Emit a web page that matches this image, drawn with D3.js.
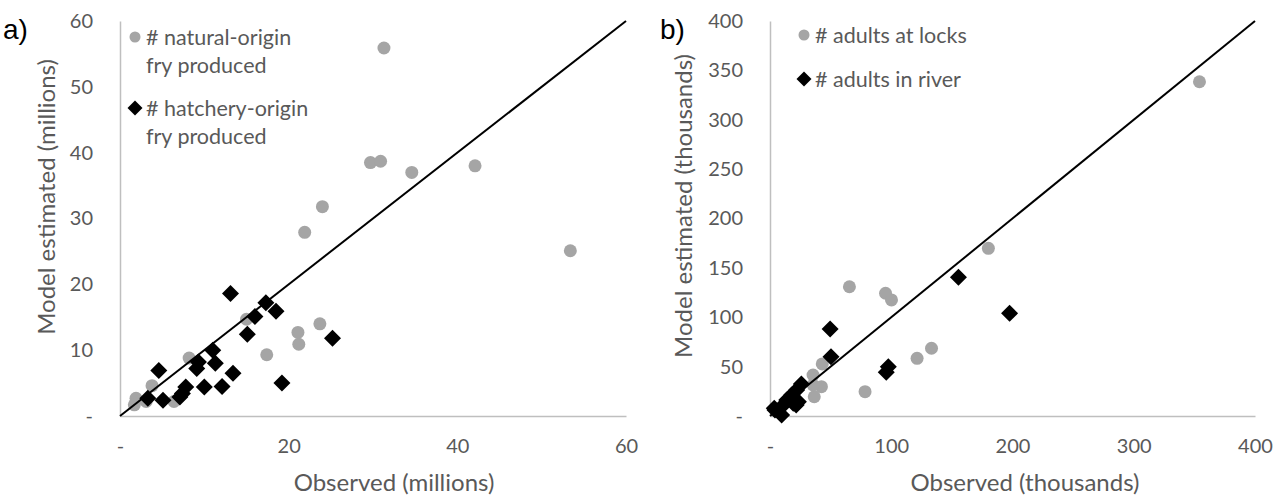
<!DOCTYPE html>
<html>
<head>
<meta charset="utf-8">
<script src="https://cdn.jsdelivr.net/npm/d3@7"></script>
<style>
  body { margin: 0; background: #fff; }
  svg { display: block; font-family: Lato, "Open Sans", sans-serif; }
</style>
</head>
<body>
<svg id="chart"></svg>
<script>
// panel a: fry produced (millions)
const naturalObs = [31.3, 29.7, 30.9, 34.6, 42.1, 24.0, 21.9, 53.4, 15.0, 23.7, 21.1, 21.2, 17.4, 8.2, 3.8, 1.9, 1.7, 3.1, 6.4];
const naturalEst = [55.9, 38.5, 38.7, 37.0, 38.0, 31.8, 27.9, 25.1, 14.7, 14.0, 12.7, 10.9, 9.3, 8.8, 4.6, 2.7, 1.7, 2.2, 2.2];
const hatcheryObs = [13.1, 17.3, 18.5, 16.0, 15.1, 25.2, 11.0, 11.3, 9.3, 9.1, 4.6, 13.4, 19.2, 10.0, 12.1, 7.8, 7.4, 7.1, 3.3, 5.1];
const hatcheryEst = [18.6, 17.2, 15.9, 15.1, 12.4, 11.8, 10.0, 8.0, 8.2, 7.2, 6.9, 6.5, 5.0, 4.4, 4.5, 4.4, 3.4, 2.9, 2.7, 2.4];

// panel b: adults (thousands)
const locksObs = [354.2, 180.1, 65.5, 95.3, 100.2, 133.2, 121.3, 43.1, 35.5, 42.4, 36.5, 78.4, 35.5];
const locksEst = [338.5, 169.8, 130.9, 124.3, 117.5, 68.6, 58.4, 52.7, 41.5, 29.7, 19.5, 24.6, 31.4];
const riverObs = [155.4, 197.6, 49.6, 50.3, 97.6, 95.9, 25.9, 22, 17.9, 13.8, 9.6, 4.1, 9.6, 23.4, 19.2, 3.5, 21.6];
const riverEst = [140.4, 104.0, 88.1, 60.1, 50.0, 44.2, 32.4, 26.3, 21.3, 16.2, 9.4, 6.1, 1.0, 14.5, 12.9, 7.8, 11.1];

const ticksA = [0, 10, 20, 30, 40, 50, 60];
const xTicksA = [0, 20, 40, 60];
const ticksB = [0, 50, 100, 150, 200, 250, 300, 350, 400];
const xTicksB = [0, 100, 200, 300, 400];

const W = 1278, H = 496;
const grey = '#a5a5a5';
const textCol = '#595959';
const axisCol = '#bfbfbf';

const svg = d3.select('#chart')
  .attr('width', W)
  .attr('height', H);

function diamond(size) {
  return `M0,${-size}L${size},0L0,${size}L${-size},0Z`;
}

function panel(opts) {
  const x = d3.scaleLinear().domain([0, opts.max]).range([opts.left, opts.right]);
  const y = d3.scaleLinear().domain([0, opts.max]).range([416, 21]);
  const fmt = d => d === 0 ? '-' : d;

  const xAxis = svg.append('g')
    .attr('transform', 'translate(0,416)')
    .call(d3.axisBottom(x).tickValues(opts.xTicks).tickSize(0).tickPadding(23).tickFormat(fmt));
  const yAxis = svg.append('g')
    .attr('transform', `translate(${opts.left},0)`)
    .call(d3.axisLeft(y).tickValues(opts.yTicks).tickSize(0).tickPadding(27).tickFormat(fmt));
  [xAxis, yAxis].forEach(g => {
    g.select('.domain').attr('stroke', axisCol).attr('stroke-width', 1.5);
    g.selectAll('text')
      .attr('fill', textCol)
      .style('font-size', '20px')
      .style('font-family', 'Lato, sans-serif');
  });

  // grey circles
  svg.append('g')
    .selectAll('circle')
    .data(d3.zip(opts.greyX, opts.greyY))
    .join('circle')
    .attr('cx', d => x(d[0]))
    .attr('cy', d => y(d[1]))
    .attr('r', 6.5)
    .attr('fill', grey);

  // 1:1 line
  svg.append('line')
    .attr('x1', x(0)).attr('y1', y(0))
    .attr('x2', x(opts.max)).attr('y2', y(opts.max))
    .attr('stroke', '#000')
    .attr('stroke-width', 2);

  // black diamonds
  svg.append('g')
    .selectAll('path')
    .data(d3.zip(opts.blackX, opts.blackY))
    .join('path')
    .attr('d', diamond(8.5))
    .attr('transform', d => `translate(${x(d[0])},${y(d[1])})`)
    .attr('fill', '#000');

  // axis titles
  svg.append('text')
    .attr('x', opts.xTitleX)
    .attr('y', 491)
    .attr('text-anchor', 'middle')
    .attr('fill', textCol)
    .style('font-size', '24px')
    .text(opts.xTitle);
  svg.append('text')
    .attr('transform', `translate(${opts.yTitleX},${opts.yTitleY}) rotate(-90)`)
    .attr('text-anchor', 'middle')
    .attr('fill', textCol)
    .style('font-size', '24px')
    .text(opts.yTitle);

  // panel letter
  svg.append('text')
    .attr('x', opts.letterX)
    .attr('y', 39)
    .attr('fill', '#000')
    .style('font-size', '28px')
    .style('font-family', 'Arial, "Liberation Sans", sans-serif')
    .text(opts.letter);

  // legend
  const leg = svg.append('g').attr('fill', textCol).style('font-size', '21.5px');
  leg.append('circle')
    .attr('cx', opts.legX).attr('cy', opts.leg1Y).attr('r', 5.5).attr('fill', grey);
  leg.append('path')
    .attr('d', diamond(7.5))
    .attr('transform', `translate(${opts.legX},${opts.leg2Y})`)
    .attr('fill', '#000');
  opts.leg1.forEach((t, i) => {
    leg.append('text')
      .attr('x', opts.legX + 11)
      .attr('y', opts.leg1Y + i * 28)
      .attr('dy', '0.35em')
      .text(t);
  });
  opts.leg2.forEach((t, i) => {
    leg.append('text')
      .attr('x', opts.legX + 11)
      .attr('y', opts.leg2Y + i * 28)
      .attr('dy', '0.35em')
      .text(t);
  });
}

panel({
  max: 60, left: 120, right: 626,
  xTicks: xTicksA, yTicks: ticksA,
  greyX: naturalObs, greyY: naturalEst,
  blackX: hatcheryObs, blackY: hatcheryEst,
  xTitle: 'Observed (millions)', xTitleX: 394,
  yTitle: 'Model estimated (millions)', yTitleX: 55, yTitleY: 197,
  letter: 'a)', letterX: 3,
  legX: 135, leg1Y: 37, leg2Y: 108,
  leg1: ['# natural-origin', 'fry produced'],
  leg2: ['# hatchery-origin', 'fry produced']
});

panel({
  max: 400, left: 770, right: 1255,
  xTicks: xTicksB, yTicks: ticksB,
  greyX: locksObs, greyY: locksEst,
  blackX: riverObs, blackY: riverEst,
  xTitle: 'Observed (thousands)', xTitleX: 1025,
  yTitle: 'Model estimated (thousands)', yTitleX: 692, yTitleY: 206,
  letter: 'b)', letterX: 660,
  legX: 804, leg1Y: 35, leg2Y: 79,
  leg1: ['# adults at locks'],
  leg2: ['# adults in river']
});
</script>
</body>
</html>
